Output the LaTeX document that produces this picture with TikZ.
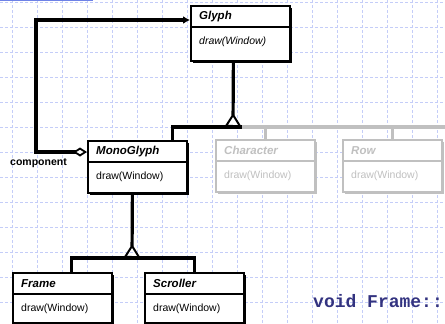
\documentclass[tikz,border=0pt]{standalone}
\usepackage{fontspec}
\setsansfont{Liberation Sans}
\newfontfamily\codefont{Liberation Mono}
\usetikzlibrary{arrows.meta,shadows}
\definecolor{gridblue}{RGB}{196,205,248}
\definecolor{topblue}{RGB}{110,130,230}
\definecolor{faded}{RGB}{192,192,192}
\definecolor{codeblue}{RGB}{51,51,128}
\tikzset{
  gridline/.style={gridblue,line width=0.9pt,dash pattern=on 3pt off 2pt},
  classbox/.style={rectangle,line width=1.8pt,fill=white,anchor=north west,
    inner sep=0pt,minimum width=99pt},
  classname/.style={font=\sffamily\bfseries\itshape\fontsize{11.5}{12}\selectfont,
    anchor=west,inner sep=0pt},
  classop/.style={font=\sffamily\fontsize{10.5}{11}\selectfont,anchor=west,inner sep=0pt},
  link/.style={line width=3.2pt,line join=miter},
  opentri/.style={-{Triangle[open,reversed,length=14pt,width=17pt,line width=2pt]}}
}
\begin{document}
\begin{tikzpicture}[x=1pt,y=-1pt]
\useasboundingbox (0,0) rectangle (445,324);
\foreach \gx in {12,37,...,437}
  \draw[gridline] (\gx,0) -- (\gx,324);
\foreach \gy in {2,27,...,302}
  \draw[gridline] (0,\gy) -- (445,\gy);
\draw[topblue,line width=1pt] (0,0.5) -- (93,0.5);

\foreach \nm/\px/\py/\bh/\ttl/\opname/\clr in {
  glyph/190/5/55/Glyph/\textit{draw(Window)}/black,
  mono/87/140/52/MonoGlyph/draw(Window)/black,
  char/215/139/52/Character/draw(Window)/faded,
  row/342/139/52/Row/draw(Window)/faded,
  frame/12/272/50/Frame/draw(Window)/black,
  scroll/144/272/50/Scroller/draw(Window)/black}
{
  \node[classbox,draw=\clr,minimum height=\bh pt,
    drop shadow={shadow xshift=1.6pt,shadow yshift=-1.6pt,fill=\clr,opacity=1}]
    (\nm) at (\px,\py) {};
  \draw[\clr,line width=1.8pt] ([yshift=-22pt]\nm.north west) -- ([yshift=-22pt]\nm.north east);
  \node[classname,text=\clr] (\nm name) at ([xshift=9pt,yshift=-11.5pt]\nm.north west) {\ttl};
  \node[classop,text=\clr] (\nm op) at ([xshift=9pt,yshift=-37pt]\nm.north west) {\opname};
}

% component
\draw[link,{Diamond[open,fill=white,length=14pt,width=9pt,line width=1.8pt]}-{Latex[length=7pt,width=8pt]}]
  ([yshift=-12pt]mono.north west) -- ++(-51,0) |- ([yshift=-15pt]glyph.north west);
\node[font=\sffamily\bfseries\fontsize{10.5}{10.5}\selectfont,anchor=west,inner sep=0pt]
  (complabel) at (10,163) {component};

% subclasses of Glyph
\coordinate (glyphbar) at (233,127);
\coordinate (barend) at (445,127);
\draw[link,faded] ([xshift=9pt]glyphbar) -- (barend);
\draw[link,faded] (char.north |- glyphbar) -- (char.north);
\draw[link,faded] (row.north |- glyphbar) -- (row.north);
\draw[link] ([xshift=-15pt]mono.north east) |- ([xshift=9pt]glyphbar);
\draw[link,opentri] ([xshift=-7pt]glyph.south) -- (glyphbar);

% subclasses of MonoGlyph
\coordinate (monobar) at (132,258);
\draw[link] ([xshift=9pt]frame.north) |- (scroll.north |- monobar) -- (scroll.north);
\draw[link,opentri] ([xshift=-5pt]mono.south) -- (monobar);

\node[font=\codefont\bfseries\fontsize{18}{18}\selectfont,text=codeblue,anchor=base west,inner sep=0pt]
  (code) at (313,307) {void Frame::};
\end{tikzpicture}
\end{document}
